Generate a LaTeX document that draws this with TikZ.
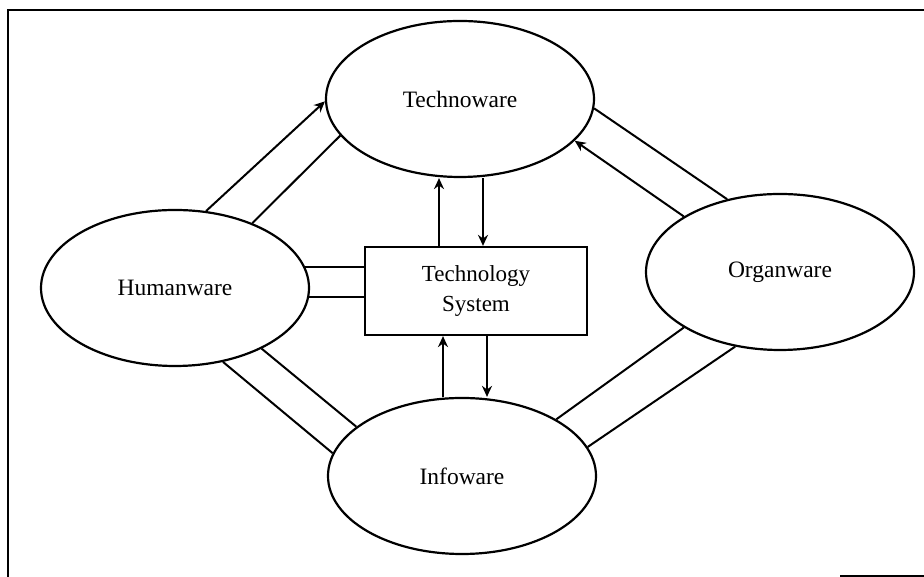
\documentclass[tikz,border=0pt]{standalone}
\usepackage{fontspec}
\setmainfont{Liberation Serif}
\usetikzlibrary{shapes.geometric,arrows.meta}
\begin{document}
\begin{tikzpicture}[x=1pt,y=1pt,
  ware/.style={draw,ellipse,line width=2.2pt,minimum width=268pt,minimum height=156pt,inner sep=0pt,font=\fontsize{23.5}{26}\selectfont},
  sysbox/.style={draw,rectangle,line width=2.2pt,minimum width=222pt,minimum height=88pt,inner sep=0pt,align=center,font=\fontsize{23}{30}\selectfont},
  link/.style={line width=2pt},
  flow/.style={link,-{Stealth[length=11pt,width=10pt]}}]
\useasboundingbox (0,0) rectangle (924,577);
% outer frame
\draw[line width=2.4pt] (8,0) -- (8,567) -- (924,567);
\draw[line width=2.4pt] (840,1) -- (924,1);
% the four components and the central system
\node[ware] (H) at (175,289) {Humanware};
\node[ware] (T) at (460,478) {Technoware};
\node[ware] (O) at (780,305) {Organware};
\node[ware] (I) at (462,101) {Infoware};
\node[sysbox] (B) at (476,286) {Technology\\System};
% Humanware -- Technoware
\draw[flow] (H.68.5) -- (T.181.3);
\draw[link] (H.40.9) -- (T.197.6);
% Technoware -- Organware
\draw[link] (T.-4.8) -- (O.126);
\draw[flow] (O.150.4) -- (T.-20.2);
% Organware -- Infoware
\draw[link] (O.210) -- (I.31.4);
\draw[link] (O.239.4) -- (I.13);
% Humanware -- Infoware
\draw[link] (H.-57) -- (I.170);
\draw[link] (H.-35.7) -- (I.155);
% Humanware -- Technology System
\draw[link] (H.9.5) -- (H.9.5 -| B.west);
\draw[link] (H.-4.3) -- (H.-4.3 -| B.west);
% Technoware <-> Technology System
\coordinate (tu) at ([xshift=-37pt]B.north);
\coordinate (td) at ([xshift=7pt]B.north);
\draw[flow] (tu) -- (tu |- T.south);
\draw[flow] (td |- T.south) -- (td);
% Infoware <-> Technology System
\coordinate (iu) at ([xshift=-33pt]B.south);
\coordinate (id) at ([xshift=11pt]B.south);
\draw[flow] (iu |- I.north) -- (iu);
\draw[flow] (id) -- (id |- I.north);
\end{tikzpicture}
\end{document}
